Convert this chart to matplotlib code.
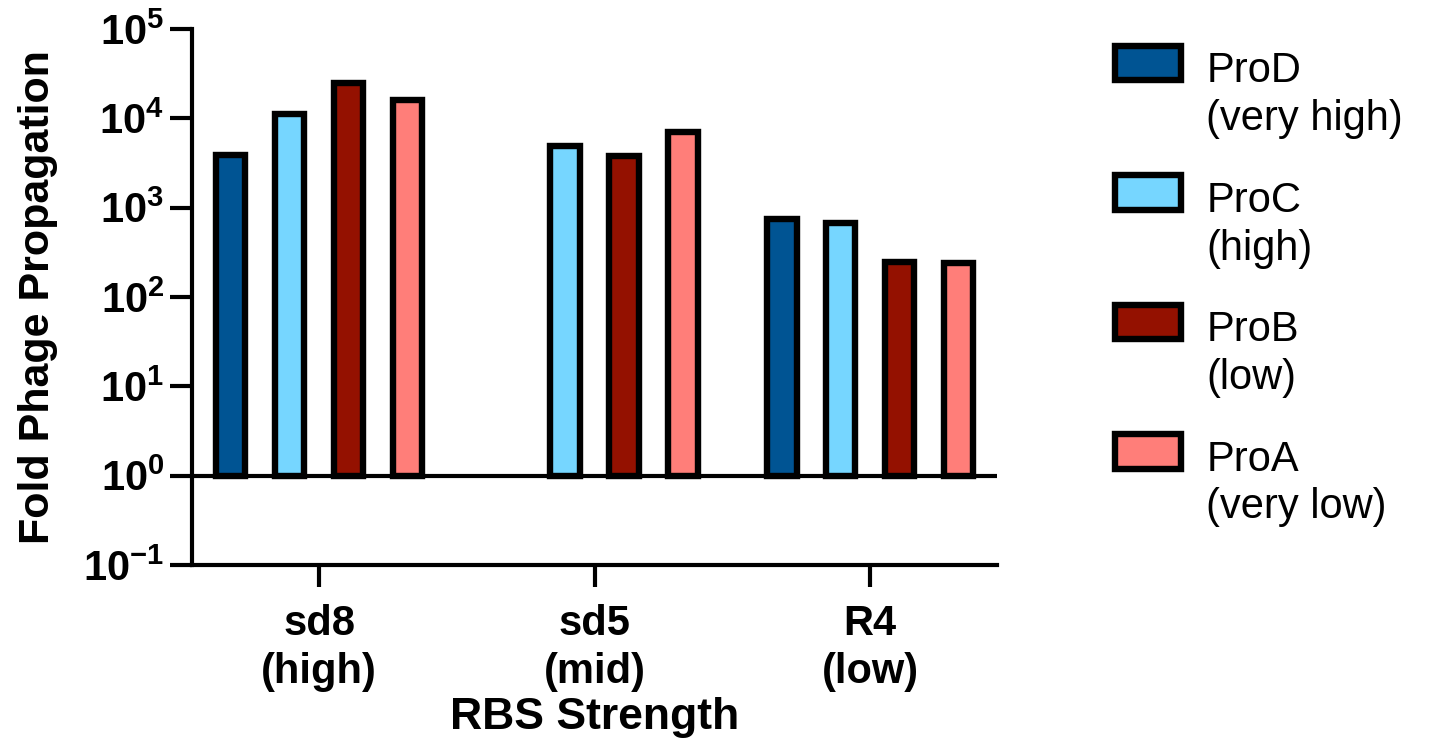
import numpy as np
import matplotlib
matplotlib.use("Agg")
import matplotlib.pyplot as plt
from matplotlib.patches import Rectangle
from matplotlib.legend_handler import HandlerPatch
from matplotlib.ticker import FixedLocator, FuncFormatter

plt.rcParams["font.family"] = ["Liberation Sans", "DejaVu Sans"]
plt.rcParams["mathtext.fontset"] = "custom"
plt.rcParams["mathtext.rm"] = "Liberation Sans:bold"
plt.rcParams["mathtext.bf"] = "Liberation Sans:bold"
plt.rcParams["mathtext.default"] = "rm"

# fold propagation per RBS, one list per promoter (nan = no bar)
rbs_labels = ["sd8\n(high)", "sd5\n(mid)", "R4\n(low)"]
promoters = ["ProD\n(very high)", "ProC\n(high)", "ProB\n(low)", "ProA\n(very low)"]
prod_vals = [3860, np.nan, 745]
proc_vals = [11100, 4940, 667]
prob_vals = [24700, 3820, 244]
proa_vals = [15900, 7100, 240]
colors = ["#005493", "#76D6FF", "#941100", "#FF7E79"]

series = [prod_vals, proc_vals, prob_vals, proa_vals]

fig = plt.figure(figsize=(14.31, 7.46), dpi=100)
ax = fig.add_axes([0.1342, 0.2426, 0.5625, 0.7185])

x = np.arange(len(rbs_labels))
step = 0.214
width = 0.107
handles = []
for i, (vals, c) in enumerate(zip(series, colors)):
    vals = np.asarray(vals, dtype=float)
    b = ax.bar(x + (i - 1.5) * step, vals - 1, bottom=1, width=width,
               color=c, edgecolor="black", linewidth=4.6, zorder=3)
    handles.append(b.patches[0])

ax.set_yscale("log")
ax.set_ylim(1e-1, 1e5)
ax.set_xlim(-0.461, 2.46)
ax.axhline(1, color="black", linewidth=3, zorder=4)

ax.yaxis.set_major_locator(FixedLocator([10.0 ** k for k in range(-1, 6)]))
ax.yaxis.set_minor_locator(FixedLocator([]))
ax.yaxis.set_major_formatter(FuncFormatter(lambda v, p: r"$10^{%d}$" % round(np.log10(v))))
ax.set_xticks(x)
ax.set_xticklabels(rbs_labels, fontweight="bold", linespacing=1.25)

for s in ["top", "right"]:
    ax.spines[s].set_visible(False)
for s in ["left", "bottom"]:
    ax.spines[s].set_linewidth(3)
ax.tick_params(axis="both", length=16, width=3, direction="out")
ax.tick_params(axis="y", labelsize=30, pad=4)
ax.tick_params(axis="x", labelsize=30, pad=12)

ax.set_ylabel("Fold Phage Propagation", fontsize=31, fontweight="bold", labelpad=18)
ax.set_xlabel("RBS Strength", fontsize=32, fontweight="bold", labelpad=4)

fs = 30


def top_aligned_patch(legend, orig_handle, xdescent, ydescent, width, height, fontsize):
    # put the swatch next to the first line of the two-line label
    return Rectangle((-xdescent, -ydescent + 0.8 * fontsize), width, height)


leg = fig.legend(handles, promoters, loc="upper left", bbox_to_anchor=(0.779, 0.931),
                 frameon=False, fontsize=fs, handlelength=1.6, handleheight=0.9,
                 handletextpad=0.6, labelspacing=1.0, borderpad=0, borderaxespad=0,
                 handler_map={Rectangle: HandlerPatch(patch_func=top_aligned_patch)})
for t in leg.get_texts():
    t.set_linespacing(1.25)

fig.savefig("out.png", dpi=100)
